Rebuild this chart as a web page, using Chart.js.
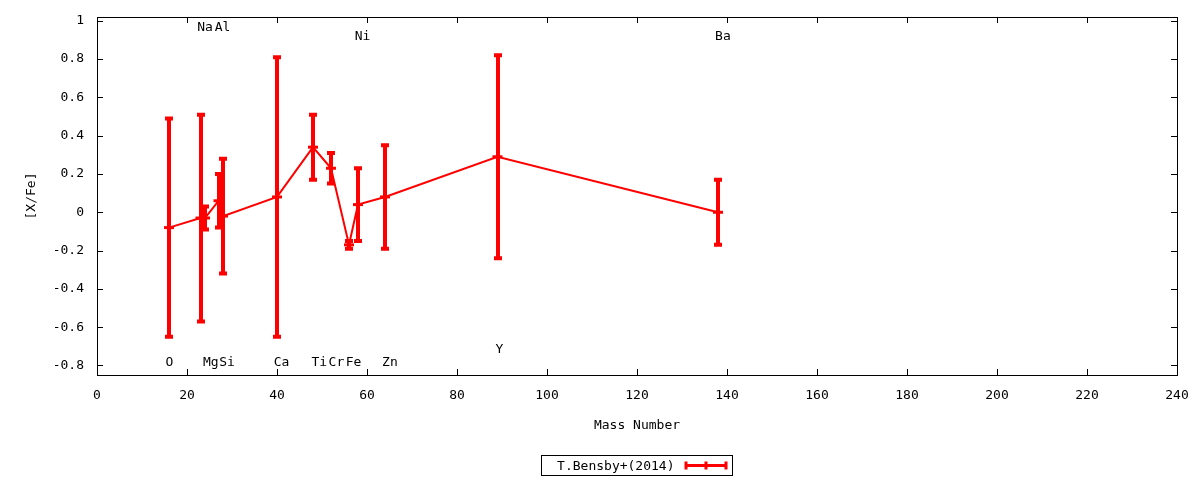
<!DOCTYPE html>
<html>
<head>
<meta charset="utf-8">
<script src="https://cdn.jsdelivr.net/npm/chart.js@4.4.1/dist/chart.umd.min.js"></script>
<style>
  html, body { margin: 0; padding: 0; background: #fff; }
  #chart { display: block; }
</style>
</head>
<body>
<canvas id="chart" width="1200" height="480"></canvas>
<script>
// elements, ordered by mass number
var elements = ['O', 'Na', 'Mg', 'Al', 'Si', 'Ca', 'Ti', 'Cr', 'Fe', 'Ni', 'Zn', 'Y', 'Ba'];
var massNumber = [16, 23, 24, 27, 28, 40, 48, 52, 56, 58, 64, 89, 138];
var xFe = [-0.08, -0.03, -0.03, 0.06, -0.02, 0.08, 0.34, 0.23, -0.17, 0.04, 0.08, 0.29, 0.00];
var xFeErr = [0.57, 0.54, 0.06, 0.14, 0.30, 0.73, 0.17, 0.08, 0.02, 0.19, 0.27, 0.53, 0.17];

// where the element names sit (data coords)
var labelX = [16.1, 24.0, 25.3, 27.9, 28.9, 41.0, 49.4, 53.2, 57.0, 59.0, 65.1, 89.4, 139.1];
var labelY = [-0.787, 0.967, -0.787, 0.967, -0.787, -0.787, -0.787, -0.787, -0.787, 0.915, -0.787, -0.715, 0.915];

var xTicks = [0, 20, 40, 60, 80, 100, 120, 140, 160, 180, 200, 220, 240];
var yTicks = [-0.8, -0.6, -0.4, -0.2, 0, 0.2, 0.4, 0.6, 0.8, 1];

var seriesLabel = 'T.Bensby+(2014)';
var red = '#ff0000';
var fontFamily = "'DejaVu Sans Mono', monospace";

Chart.defaults.font.family = fontFamily;
Chart.defaults.font.size = 13;
Chart.defaults.color = '#000';

var gnuplotLook = {
  id: 'gnuplotLook',
  beforeDatasetsDraw: function(chart) {
    var ctx = chart.ctx, xs = chart.scales.x, ys = chart.scales.y;
    ctx.save();
    ctx.strokeStyle = red;
    ctx.lineWidth = 4;
    ctx.lineCap = 'butt';
    for (var i = 0; i < massNumber.length; i++) {
      var px = Math.round(xs.getPixelForValue(massNumber[i]));
      var top = ys.getPixelForValue(xFe[i] + xFeErr[i]);
      var bot = ys.getPixelForValue(xFe[i] - xFeErr[i]);
      ctx.beginPath();
      ctx.moveTo(px, top); ctx.lineTo(px, bot);
      ctx.moveTo(px - 4, top); ctx.lineTo(px + 4, top);
      ctx.moveTo(px - 4, bot); ctx.lineTo(px + 4, bot);
      ctx.stroke();
    }
    ctx.restore();
  },
  afterDraw: function(chart) {
    var ctx = chart.ctx, a = chart.chartArea;
    var xs = chart.scales.x, ys = chart.scales.y;
    ctx.save();
    // frame
    ctx.strokeStyle = '#000';
    ctx.lineWidth = 1;
    ctx.strokeRect(Math.round(a.left) + 0.5, Math.round(a.top) + 0.5,
      Math.round(a.right - a.left), Math.round(a.bottom - a.top));
    // inward ticks on all four sides
    ctx.beginPath();
    xTicks.forEach(function(v) {
      var px = Math.round(xs.getPixelForValue(v)) + 0.5;
      ctx.moveTo(px, a.bottom); ctx.lineTo(px, a.bottom - 6);
      ctx.moveTo(px, a.top); ctx.lineTo(px, a.top + 6);
    });
    yTicks.forEach(function(v) {
      var py = Math.round(ys.getPixelForValue(v)) + 0.5;
      ctx.moveTo(a.left, py); ctx.lineTo(a.left + 6, py);
      ctx.moveTo(a.right, py); ctx.lineTo(a.right - 6, py);
    });
    ctx.stroke();

    // element names
    ctx.fillStyle = '#000';
    ctx.font = '13px ' + fontFamily;
    ctx.textAlign = 'center';
    ctx.textBaseline = 'middle';
    for (var i = 0; i < elements.length; i++) {
      ctx.fillText(elements[i], xs.getPixelForValue(labelX[i]), ys.getPixelForValue(labelY[i]));
    }

    // key box under the plot
    var cx = (a.left + a.right) / 2;
    var bx = Math.round(cx - 96) + 0.5, by = 455.5, bw = 191, bh = 20;
    ctx.strokeRect(bx, by, bw, bh);
    ctx.textAlign = 'right';
    ctx.fillText(chart.data.datasets[0].label, bx + 133, by + bh / 2 + 1);
    var sx0 = bx + 143, sx1 = bx + 186, sy = by + bh / 2;
    ctx.strokeStyle = red;
    ctx.lineWidth = 3;
    ctx.beginPath();
    ctx.moveTo(sx0, sy); ctx.lineTo(sx1, sy);
    [sx0 + 1.5, (sx0 + sx1) / 2, sx1 - 1.5].forEach(function(x) {
      ctx.moveTo(x, sy - 4); ctx.lineTo(x, sy + 4);
    });
    ctx.stroke();
    ctx.restore();
  }
};

var ctx = document.getElementById('chart').getContext('2d');
var myChart = new Chart(ctx, {
  type: 'scatter',
  data: {
    datasets: [{
      label: seriesLabel,
      data: massNumber.map(function(m, i) { return { x: m, y: xFe[i] }; }),
      showLine: true,
      borderColor: red,
      borderWidth: 2,
      pointStyle: 'line',
      pointRadius: 5,
      pointHoverRadius: 5,
      pointBorderWidth: 3,
      pointBorderColor: red,
      pointBackgroundColor: red
    }]
  },
  options: {
    responsive: false,
    animation: false,
    layout: { padding: { left: 0, right: 23, top: 17, bottom: 45 } },
    plugins: {
      legend: { display: false },
      tooltip: { enabled: false }
    },
    scales: {
      x: {
        type: 'linear',
        min: 0,
        max: 240,
        grid: { display: false, drawTicks: true, tickLength: 13 },
        border: { display: false },
        afterBuildTicks: function(s) { s.ticks = xTicks.map(function(v) { return { value: v }; }); },
        ticks: { padding: 0, maxRotation: 0, callback: function(v) { return String(v); } },
        title: { display: true, text: 'Mass Number', padding: { top: 0, bottom: 2 } },
        afterFit: function(s) { s.height = 60; }
      },
      y: {
        type: 'linear',
        min: -0.85,
        max: 1.02,
        grid: { display: false, drawTicks: true, tickLength: 13 },
        border: { display: false },
        afterBuildTicks: function(s) { s.ticks = yTicks.map(function(v) { return { value: v }; }); },
        ticks: { padding: 0, callback: function(v) { return String(Math.round(v * 10) / 10); } },
        title: { display: true, text: '[X/Fe]', padding: { top: 24, bottom: 0 } },
        afterFit: function(s) { s.width = 97; }
      }
    }
  },
  plugins: [gnuplotLook]
});
</script>
</body>
</html>
